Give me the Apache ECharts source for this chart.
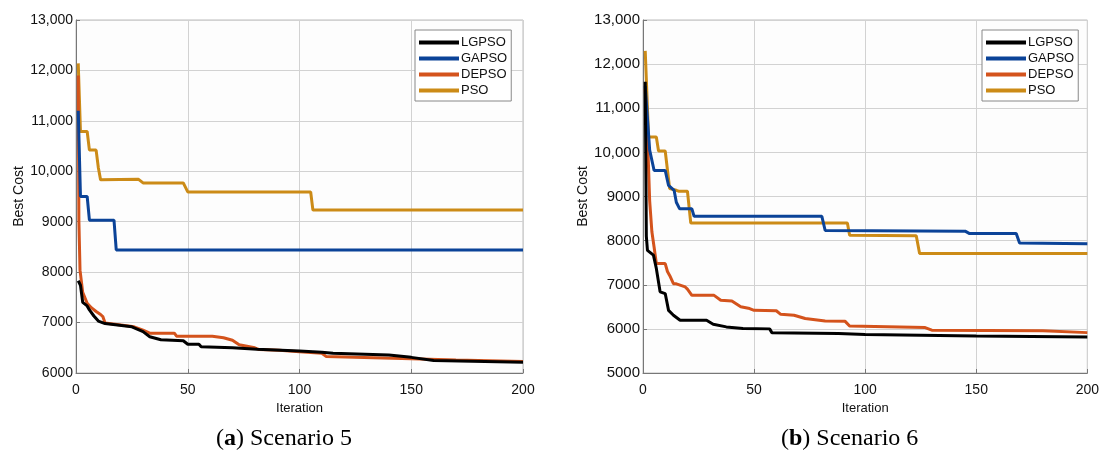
<!DOCTYPE html>
<html>
<head>
<meta charset="utf-8">
<script src="https://cdn.jsdelivr.net/npm/echarts@6/dist/echarts.min.js"></script>
<style>
  html, body { margin: 0; padding: 0; background: #fff; }
  #chart { width: 1102px; height: 450px; }
</style>
</head>
<body>
<div id="chart"></div>
<script>
// series names + colours (MATLAB-ish)
const names = ['LGPSO', 'GAPSO', 'DEPSO', 'PSO'];
const colors = ['#000000', '#0b4398', '#d4531c', '#cc8b17'];

// Scenario 5: [iteration, best cost]
const s5LGPSO = [[1,7830],[2,7740],[3,7400],[5,7330],[6,7250],[8,7130],[10,7030],[13,6980],[25,6915],[30,6820],[33,6720],[38,6660],[48,6640],[50,6570],[55,6570],[56,6520],[70,6500],[81,6470],[100,6435],[110,6410],[115,6390],[140,6355],[150,6310],[160,6250],[200,6215]];
const s5GAPSO = [[1,11200],[2,9500],[5,9500],[6,9030],[17,9030],[18,8440],[200,8440]];
const s5DEPSO = [[1,11900],[1.3,9000],[1.8,8040],[3,7600],[5,7380],[7,7290],[9,7220],[11,7160],[12,7120],[13,6990],[20,6950],[26,6915],[30,6850],[33,6790],[44,6790],[45,6730],[61,6730],[66,6700],[70,6650],[73,6560],[80,6500],[82,6465],[91,6450],[100,6420],[110,6390],[112,6325],[150,6285],[170,6260],[200,6230]];
const s5PSO = [[1,12140],[2,10790],[5,10790],[6,10420],[9,10420],[10,10070],[11,9830],[28,9840],[30,9770],[48,9770],[50,9590],[105,9590],[106,9230],[200,9230]];

// Scenario 6
const s6LGPSO = [[1,11600],[1.5,8100],[2,7780],[4.7,7670],[6,7370],[7.7,6840],[10,6800],[11.5,6420],[13.7,6310],[16.7,6195],[28.6,6195],[31.6,6105],[37.5,6045],[45,6010],[57,6000],[58,5915],[88,5893],[100,5870],[150,5838],[200,5815]];
const s6GAPSO = [[1,11500],[3,10050],[5,9590],[10,9590],[11.5,9250],[14,9140],[15,8870],[16.5,8720],[22,8720],[23,8550],[80.5,8550],[82,8230],[145,8215],[147,8160],[168,8160],[169.5,7945],[200,7930]];
const s6DEPSO = [[1,11440],[2,10400],[3,8900],[4,8200],[5,7850],[6,7480],[10,7480],[11,7300],[12,7210],[13.7,7025],[15,7020],[19,6950],[20,6900],[22,6760],[32,6760],[35,6650],[40,6630],[44,6500],[48,6460],[50,6420],[60,6410],[62,6330],[68,6310],[73,6235],[82,6180],[91,6170],[93,6065],[127,6030],[130,5970],[180,5960],[200,5915]];
const s6PSO = [[1,12300],[2.5,10350],[6,10350],[7,10030],[10,10030],[12,9180],[15,9140],[16,9120],[20,9120],[21.5,8400],[92,8400],[93,8120],[123,8110],[124.5,7710],[200,7710]];

const captions = [['a', 'Scenario 5'], ['b', 'Scenario 6']];

const chart = echarts.init(document.getElementById('chart'));

function costLabel(v) {
  return v >= 10000 ? echarts.format.addCommas(v) : String(v);
}

function xAxisFor(idx) {
  return {
    type: 'value', gridIndex: idx, min: 0, max: 200, interval: 50,
    name: 'Iteration', nameLocation: 'middle', nameGap: 29,
    nameTextStyle: { fontFamily: 'Liberation Sans', fontSize: 13, color: '#111' },
    axisLine: { show: true, lineStyle: { color: '#777', width: 1 } },
    axisTick: { show: true, inside: true, length: 4, lineStyle: { color: '#777' } },
    axisLabel: { fontFamily: 'Liberation Sans', fontSize: 14, color: '#111', margin: 10 },
    splitLine: { show: true, lineStyle: { color: '#d2d2d2', width: 1 } }
  };
}

function yAxisFor(idx, min, fs) {
  return {
    type: 'value', gridIndex: idx, min: min, max: 13000, interval: 1000,
    name: 'Best Cost', nameLocation: 'middle', nameGap: 48,
    nameTextStyle: { fontFamily: 'Liberation Sans', fontSize: 14, color: '#111' },
    axisLine: { show: true, lineStyle: { color: '#777', width: 1 } },
    axisTick: { show: true, inside: true, length: 4, lineStyle: { color: '#777' } },
    axisLabel: { fontFamily: 'Liberation Sans', fontSize: fs, color: '#111', margin: 3, formatter: costLabel },
    splitLine: { show: true, lineStyle: { color: '#d2d2d2', width: 1 } }
  };
}

function line(name, data, idx) {
  const c = colors[names.indexOf(name)];
  return {
    name: name, type: 'line', xAxisIndex: idx, yAxisIndex: idx,
    data: data, showSymbol: false, symbol: 'none',
    lineStyle: { color: c, width: 3 }, itemStyle: { color: c },
    z: 10 - names.indexOf(name)
  };
}

function legendAt(left) {
  return {
    left: left, top: 30, orient: 'vertical', data: names,
    icon: 'rect', itemWidth: 40, itemHeight: 4, itemGap: 3,
    padding: [6, 4, 4, 4],
    backgroundColor: '#fff', borderColor: '#888', borderWidth: 1,
    textStyle: { fontFamily: 'Liberation Sans', fontSize: 13, color: '#111', padding: [0, 0, 0, -3] },
    selectedMode: false
  };
}

const option = {
  animation: false,
  backgroundColor: '#fff',
  grid: [
    { left: 76, top: 20, width: 447, height: 353, show: true, borderColor: '#bdbdbd', borderWidth: 1, backgroundColor: '#fdfdfd' },
    { left: 643, top: 20, width: 447, height: 353, show: true, borderColor: '#bdbdbd', borderWidth: 1, backgroundColor: '#fdfdfd' }
  ],
  xAxis: [xAxisFor(0), xAxisFor(1)],
  yAxis: [yAxisFor(0, 6000, 14), yAxisFor(1, 5000, 15)],
  legend: [legendAt(415), legendAt(982)],
  title: captions.map((c, i) => ({
    text: '({b|' + c[0] + '}) ' + c[1],
    left: i === 0 ? 211 : 776, top: 422,
    textStyle: {
      fontFamily: 'Liberation Serif', fontSize: 24, fontWeight: 'normal', color: '#000',
      rich: { b: { fontFamily: 'Liberation Serif', fontSize: 24, fontWeight: 'bold', color: '#000' } }
    }
  })),
  series: [
    line('PSO', s5PSO, 0), line('DEPSO', s5DEPSO, 0), line('GAPSO', s5GAPSO, 0), line('LGPSO', s5LGPSO, 0),
    line('PSO', s6PSO, 1), line('DEPSO', s6DEPSO, 1), line('GAPSO', s6GAPSO, 1), line('LGPSO', s6LGPSO, 1)
  ]
};

chart.setOption(option);
</script>
</body>
</html>
